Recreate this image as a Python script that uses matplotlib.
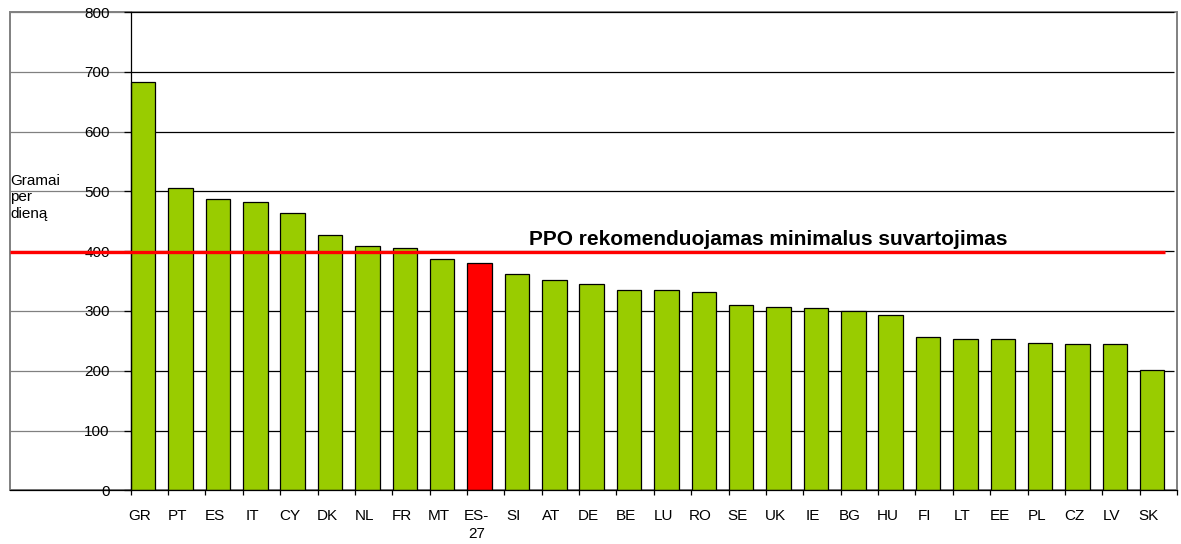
import matplotlib
matplotlib.use("Agg")
import matplotlib.pyplot as plt
from matplotlib.patches import Rectangle

plt.rcParams['font.family'] = ['Liberation Sans', 'DejaVu Sans']

countries = ["GR", "PT", "ES", "IT", "CY", "DK", "NL", "FR", "MT", "ES-\n27",
             "SI", "AT", "DE", "BE", "LU", "RO", "SE", "UK", "IE", "BG",
             "HU", "FI", "LT", "EE", "PL", "CZ", "LV", "SK"]
values = [683, 505, 487, 483, 463, 427, 409, 406, 387, 380,
          362, 352, 345, 335, 335, 331, 310, 307, 305, 300,
          294, 257, 253, 253, 247, 245, 244, 201]
highlight = "ES-\n27"
recommended = 398
yticks = [0, 100, 200, 300, 400, 500, 600, 700, 800]
line_label = "PPO rekomenduojamas minimalus suvartojimas"
ylabel = "Gramai\nper\ndieną"

W, H = 1181, 544
fig = plt.figure(figsize=(W / 100, H / 100), dpi=100)
ax = fig.add_axes([10 / W, (H - 490.3) / H, (1177 - 10) / W, (490.3 - 12) / H])

n = len(countries)
x0, x1 = -3.229, 27.92
ax.set_xlim(x0, x1)
ax.set_ylim(0, 800)

# gridlines
for t in yticks[1:]:
    ax.hlines(t, x0, 0, color="#808080", lw=0.9, zorder=1)
    ax.hlines(t, 0, x1, color="black", lw=0.9, zorder=1)

# bars
colors = ["#FF0000" if c == highlight else "#99CC00" for c in countries]
pos = [k + 0.337 for k in range(n)]
ax.bar(pos, values, width=0.655, color=colors, edgecolor="black",
       linewidth=0.9, zorder=2)

# recommended line
ax.hlines(recommended, x0, 27.67, color="#FF0000", lw=2.4, zorder=4)
ax.text(10.65, 410.5, line_label, fontsize=15, fontweight="bold",
        ha="left", va="baseline", zorder=5)

# frame
ax.add_patch(Rectangle((0, 0), 1, 1, transform=ax.transAxes, fill=False,
                       edgecolor="#808080", lw=1.4, zorder=0.5, clip_on=False))
ax.spines["top"].set_visible(False)
ax.spines["right"].set_visible(False)
ax.spines["left"].set_position(("data", 0))
ax.spines["left"].set_color("black")
ax.spines["left"].set_linewidth(0.9)
ax.spines["bottom"].set_color("black")
ax.spines["bottom"].set_linewidth(0.9)
ax.spines["left"].set_zorder(3)
ax.spines["bottom"].set_zorder(3)

ax.set_yticks(yticks)
ax.set_yticklabels([str(t) for t in yticks], fontsize=11)
ax.tick_params(axis="y", direction="out", length=5, width=0.9, pad=10)

ax.set_xticks(range(n + 1))
ax.set_xticklabels([])
ax.set_xticks([k + 0.25 for k in range(n)], minor=True)
ax.set_xticklabels(countries, minor=True, fontsize=11, linespacing=1.35)
ax.tick_params(axis="x", which="major", direction="out", length=3.6, width=0.9)
ax.tick_params(axis="x", which="minor", length=0, pad=13.5)

fig.text(10 / W, 1 - 174 / H, ylabel, fontsize=11, ha="left", va="top",
         linespacing=1.22)

fig.savefig("out.png", dpi=100)
